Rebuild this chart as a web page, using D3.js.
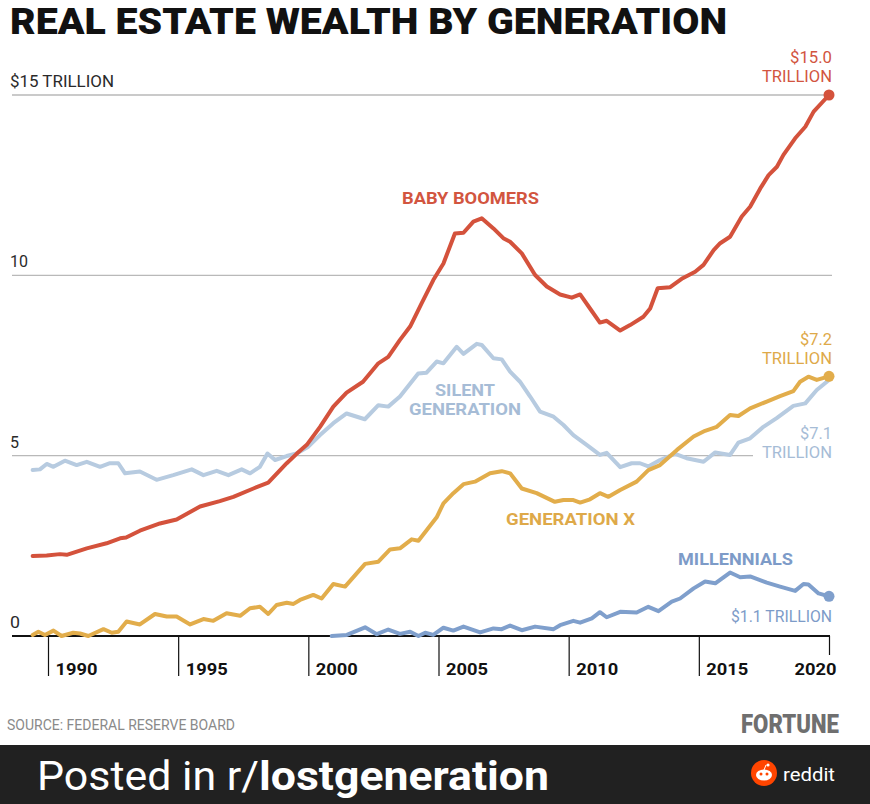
<!DOCTYPE html>
<html><head><meta charset="utf-8">
<script src="https://cdn.jsdelivr.net/npm/d3@7"></script>
<style>
html,body{margin:0;padding:0;background:#fff;}
svg{display:block;}
text{font-family:Roboto,"Noto Sans",sans-serif;}
</style></head>
<body>
<svg id="chart" width="870" height="804"></svg>
<script>
// ---- data (trillions of dollars) ----
const boomers = [[1989.41,2.22],[1989.95,2.23],[1990.46,2.27],[1990.72,2.25],[1991.49,2.43],[1992.25,2.57],[1992.77,2.71],[1993.0,2.73],[1993.53,2.92],[1994.3,3.12],[1994.94,3.23],[1995.84,3.59],[1996.6,3.74],[1997.12,3.86],[1997.89,4.09],[1998.46,4.25],[1999.17,4.79],[1999.55,5.05],[1999.94,5.3],[2000.45,5.80],[2000.96,6.36],[2001.47,6.75],[2002.1,7.05],[2002.69,7.56],[2003.07,7.74],[2003.52,8.21],[2003.91,8.58],[2004.35,9.22],[2004.8,9.87],[2005.19,10.33],[2005.63,11.16],[2005.96,11.18],[2006.34,11.49],[2006.66,11.58],[2007.11,11.3],[2007.49,11.03],[2007.75,10.93],[2008.2,10.61],[2008.71,10.01],[2009.16,9.69],[2009.67,9.47],[2010.12,9.38],[2010.44,9.47],[2010.82,9.08],[2011.2,8.69],[2011.46,8.74],[2011.98,8.47],[2012.36,8.62],[2012.87,8.85],[2013.13,9.08],[2013.42,9.64],[2013.9,9.67],[2014.38,9.92],[2014.86,10.1],[2015.18,10.29],[2015.57,10.70],[2015.82,10.89],[2016.2,11.07],[2016.65,11.63],[2016.97,11.9],[2017.36,12.41],[2017.68,12.78],[2018.0,13.01],[2018.25,13.34],[2018.7,13.8],[2019.09,14.12],[2019.41,14.54],[2020.0,15.0]];
const silent = [[1989.41,4.60],[1989.69,4.62],[1989.95,4.77],[1990.21,4.69],[1990.65,4.86],[1991.1,4.74],[1991.49,4.83],[1992.0,4.69],[1992.38,4.79],[1992.7,4.79],[1992.96,4.51],[1993.53,4.56],[1994.17,4.33],[1994.81,4.46],[1995.52,4.62],[1995.97,4.46],[1996.48,4.58],[1996.93,4.46],[1997.44,4.62],[1997.76,4.51],[1998.14,4.69],[1998.43,5.06],[1998.72,4.88],[1999.17,4.99],[1999.55,5.06],[2000.0,5.25],[2000.45,5.57],[2000.96,5.90],[2001.47,6.17],[2002.17,6.01],[2002.69,6.40],[2003.07,6.36],[2003.52,6.64],[2004.22,7.28],[2004.54,7.30],[2004.93,7.61],[2005.19,7.56],[2005.7,8.02],[2005.96,7.82],[2006.47,8.10],[2006.66,8.07],[2007.11,7.70],[2007.43,7.67],[2007.75,7.33],[2008.13,7.05],[2008.52,6.64],[2008.9,6.22],[2009.42,6.08],[2009.8,5.85],[2010.18,5.57],[2010.69,5.30],[2011.2,5.02],[2011.46,5.08],[2011.98,4.68],[2012.42,4.79],[2012.74,4.79],[2013.06,4.70],[2013.51,4.88],[2014.09,5.05],[2014.53,4.93],[2015.18,4.83],[2015.63,5.09],[2016.2,5.02],[2016.52,5.36],[2016.97,5.48],[2017.48,5.80],[2017.99,6.04],[2018.63,6.38],[2019.09,6.45],[2019.53,6.82],[2020.0,7.1]];
const genX = [[1989.41,0.03],[1989.63,0.12],[1989.88,0.03],[1990.21,0.15],[1990.52,0.0],[1990.97,0.09],[1991.23,0.07],[1991.55,0.0],[1992.13,0.19],[1992.45,0.09],[1992.7,0.12],[1993.02,0.40],[1993.53,0.32],[1994.11,0.61],[1994.56,0.54],[1994.94,0.54],[1995.46,0.32],[1995.97,0.47],[1996.35,0.42],[1996.86,0.63],[1997.38,0.56],[1997.76,0.77],[1998.14,0.81],[1998.46,0.61],[1998.78,0.86],[1999.17,0.92],[1999.43,0.89],[1999.68,1.0],[2000.19,1.14],[2000.51,1.04],[2000.96,1.44],[2001.41,1.37],[2002.18,2.0],[2002.69,2.06],[2003.14,2.40],[2003.52,2.43],[2003.97,2.68],[2004.23,2.64],[2004.55,2.94],[2004.93,3.29],[2005.19,3.68],[2005.57,3.96],[2005.96,4.21],[2006.4,4.28],[2006.98,4.51],[2007.43,4.57],[2007.75,4.51],[2008.2,4.09],[2008.77,3.96],[2009.47,3.72],[2009.8,3.77],[2010.18,3.77],[2010.44,3.70],[2010.82,3.79],[2011.2,3.96],[2011.53,3.86],[2011.98,4.05],[2012.61,4.28],[2013.06,4.60],[2013.51,4.74],[2014.16,5.16],[2014.8,5.53],[2015.24,5.69],[2015.69,5.80],[2016.2,6.13],[2016.52,6.10],[2016.97,6.31],[2017.61,6.50],[2018.12,6.65],[2018.63,6.79],[2018.89,7.05],[2019.21,7.19],[2019.53,7.10],[2020.0,7.2]];
const millennials = [[2000.9,0.0],[2001.48,0.03],[2002.18,0.24],[2002.63,0.05],[2003.07,0.18],[2003.52,0.06],[2003.91,0.12],[2004.23,0.0],[2004.49,0.09],[2004.8,0.03],[2005.19,0.23],[2005.57,0.15],[2005.96,0.26],[2006.6,0.10],[2007.11,0.21],[2007.43,0.19],[2007.75,0.29],[2008.2,0.16],[2008.71,0.26],[2009.42,0.19],[2009.67,0.30],[2010.18,0.42],[2010.44,0.37],[2010.89,0.49],[2011.2,0.66],[2011.46,0.52],[2011.98,0.67],[2012.61,0.65],[2013.06,0.81],[2013.45,0.69],[2013.96,0.95],[2014.28,1.04],[2014.8,1.32],[2015.24,1.51],[2015.63,1.46],[2016.2,1.76],[2016.59,1.63],[2016.97,1.65],[2017.61,1.48],[2018.12,1.37],[2018.7,1.25],[2019.02,1.44],[2019.21,1.43],[2019.6,1.18],[2020.0,1.1]];
const xTicks = [1990,1995,2000,2005,2010,2015,2020];
const yTicks = [0,5,10,15];
const yTickLabels = ["0","5","10","$15 TRILLION"];

// ---- drawing ----
const svg = d3.select("#chart");
const x = d3.scaleLinear().domain([1990,2020]).range([48,829]);
const y = d3.scaleLinear().domain([0,15]).range([636,95]);

const C = {boom:"#d4523c", silent:"#b7cbe0", genx:"#e2ad4b", mill:"#7f9fcc"};

svg.append("rect").attr("width",870).attr("height",804).attr("fill","#fff");

// title
svg.append("text").attr("x",10).attr("y",34).attr("font-size",36).attr("font-weight",900)
  .attr("fill","#111").attr("textLength",717).attr("lengthAdjust","spacingAndGlyphs")
  .text("REAL ESTATE WEALTH BY GENERATION");

// gridlines
const gridEnd = {5:753, 10:832, 15:832};
svg.append("g").selectAll("line").data(yTicks.filter(d=>d>0)).join("line")
  .attr("x1",12).attr("x2",d=>gridEnd[d]).attr("y1",d=>y(d)).attr("y2",d=>y(d))
  .attr("stroke","#b9b9b9").attr("stroke-width",1.4);

// y labels
const yLabW = {0:10,5:9,10:18,15:104};
svg.append("g").selectAll("text").data(yTicks).join("text")
  .attr("x",10).attr("y",d=>y(d)-8).attr("font-size",17).attr("fill","#2a2a2a")
  .attr("textLength",d=>yLabW[d]).attr("lengthAdjust","spacingAndGlyphs")
  .text((d,i)=>yTickLabels[i]);

// x axis
const xAxis = d3.axisBottom(x).tickValues(xTicks).tickSizeInner(40).tickSizeOuter(0).tickFormat(d=>String(d));
const gx = svg.append("g").attr("transform",`translate(0,${y(0)})`).call(xAxis);
gx.select(".domain").remove();
gx.selectAll(".tick line").attr("stroke","#111").attr("stroke-width",1.2)
  .attr("y2",d=>d===2020?19:40);
gx.selectAll(".tick text").attr("font-family","Roboto, sans-serif").attr("font-size",16).attr("font-weight",700)
  .attr("fill","#111").attr("y",39).attr("dy",0)
  .attr("text-anchor",d=>d===2020?"end":"start").attr("x",7)
  .attr("textLength",42).attr("lengthAdjust","spacingAndGlyphs");
svg.append("line").attr("x1",12).attr("x2",830).attr("y1",y(0)).attr("y2",y(0))
  .attr("stroke","#111").attr("stroke-width",1.8);

// lines
const line = d3.line().x(d=>x(d[0])).y(d=>y(d[1]));
const series = [[silent,C.silent],[millennials,C.mill],[genX,C.genx],[boomers,C.boom]];
svg.append("g").selectAll("path").data(series).join("path")
  .attr("d",d=>line(d[0])).attr("fill","none").attr("stroke",d=>d[1])
  .attr("stroke-width",4).attr("stroke-linejoin","round").attr("stroke-linecap","round");

// end dots
const dots = [[boomers,C.boom],[genX,C.genx],[millennials,C.mill]];
svg.append("g").selectAll("circle").data(dots).join("circle")
  .attr("cx",d=>x(d[0][d[0].length-1][0])).attr("cy",d=>y(d[0][d[0].length-1][1]))
  .attr("r",5.5).attr("fill",d=>d[1]);

// series labels
function lab(t,xx,yy,col,w,opts={}){
  const el = svg.append("text").attr("x",xx).attr("y",yy).attr("fill",col)
    .attr("font-size",opts.size||17).attr("font-weight",opts.weight||700)
    .attr("text-anchor",opts.anchor||"start").text(t);
  if(w) el.attr("textLength",w).attr("lengthAdjust","spacingAndGlyphs");
  return el;
}
lab("BABY BOOMERS",402,204,"#d2553f",137);
lab("SILENT",435,396,"#a6bcd6",60);
lab("GENERATION",409,415,"#a6bcd6",112);
lab("GENERATION X",506,525,"#dea949",129);
lab("MILLENNIALS",678,565,"#7d9bc8",115);

// end value labels
lab("$15.0",790,63,"#d2553f",42,{weight:400,size:16});
lab("TRILLION",762,82,"#d2553f",70,{weight:400,size:16});
lab("$7.2",800,345,"#dea949",32,{weight:400,size:16});
lab("TRILLION",762,364,"#dea949",70,{weight:400,size:16});
lab("$7.1",800,439,"#a6bcd6",32,{weight:400,size:16});
lab("TRILLION",762,458,"#a6bcd6",70,{weight:400,size:16});
lab("$1.1 TRILLION",731,622,"#7d9bc8",101,{weight:400,size:16});

// footer
lab("SOURCE: FEDERAL RESERVE BOARD",7,730,"#8a8a8a",228,{weight:400,size:15});
lab("FORTUNE",741,733,"#6f6f6f",98,{weight:900,size:26});

// bottom bar
svg.append("rect").attr("x",0).attr("y",745).attr("width",870).attr("height",59).attr("fill","#212121");
const t = svg.append("text").attr("x",37).attr("y",790).attr("font-size",40).attr("fill","#fff");
t.append("tspan").attr("font-weight",400).attr("textLength",222).attr("lengthAdjust","spacingAndGlyphs").text("Posted in r/");
t.append("tspan").attr("font-weight",700).attr("textLength",290).attr("lengthAdjust","spacingAndGlyphs").text("lostgeneration");
svg.append("circle").attr("cx",764).attr("cy",773).attr("r",13).attr("fill","#ff4500");
// simple snoo face
const snoo = svg.append("g").attr("transform","translate(764,775)");
snoo.append("ellipse").attr("rx",8).attr("ry",5.5).attr("fill","#fff");
snoo.append("circle").attr("cx",-3).attr("cy",-1).attr("r",1.5).attr("fill","#ff4500");
snoo.append("circle").attr("cx",3).attr("cy",-1).attr("r",1.5).attr("fill","#ff4500");
snoo.append("circle").attr("cx",4).attr("cy",-10).attr("r",1.6).attr("fill","#fff");
snoo.append("line").attr("x1",0).attr("y1",-5).attr("x2",2).attr("y2",-10).attr("stroke","#fff").attr("stroke-width",1);
lab("reddit",783,781,"#fff",52,{weight:400,size:18});
</script>
</body></html>
